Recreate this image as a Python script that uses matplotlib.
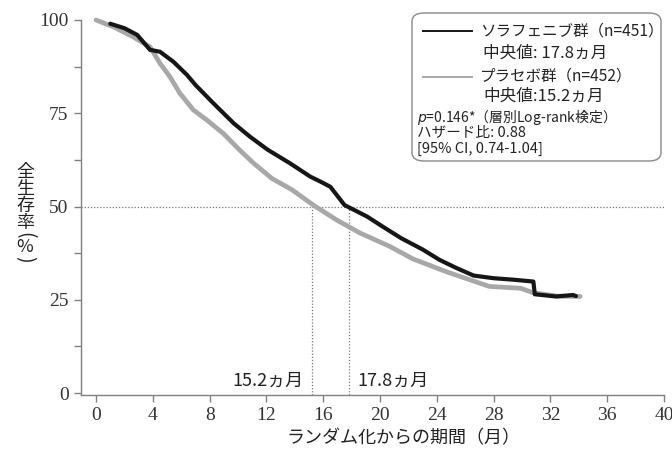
import matplotlib
matplotlib.use("Agg")
import matplotlib.pyplot as plt
from matplotlib.patches import FancyBboxPatch
from matplotlib.lines import Line2D
from matplotlib.ticker import MultipleLocator

plt.rcParams['font.family'] = ['Noto Sans CJK JP', 'DejaVu Sans']

# survival curves (months, %)
sora_m = [1.0, 2.0, 2.9, 3.8, 4.5, 5.45, 6.4, 7.0, 8.26, 9.7, 10.85, 12.1, 13.66,
          15.1, 15.8, 16.5, 17.5, 19.1, 20.2, 21.5, 23.0, 24.2, 25.4, 26.6, 28.0,
          29.4, 30.8, 30.9, 32.4, 33.6, 33.8]
sora_s = [99.0, 97.8, 96.0, 92.0, 91.5, 88.8, 85.3, 82.6, 77.7, 72.3, 68.7, 65.2, 61.6,
          58.0, 56.7, 55.3, 50.4, 47.3, 44.6, 41.5, 38.5, 35.7, 33.5, 31.5, 30.8,
          30.4, 29.9, 26.5, 25.9, 26.3, 26.0]
plac_m = [0, 1.2, 2.6, 3.8, 4.5, 5.2, 5.9, 6.85, 7.8, 8.96, 10.1, 11.1, 12.4, 13.8,
          15.3, 16.95, 18.6, 20.7, 22.3, 24.7, 26.0, 27.7, 29.9, 30.8, 32.5, 34.1]
plac_s = [100, 98.2, 95.5, 92.8, 88.4, 84.8, 80.4, 75.9, 73.2, 69.6, 65.2, 61.6, 57.5, 54.5,
          50.4, 46.4, 42.9, 39.3, 36.0, 32.5, 30.8, 28.6, 28.1, 26.9, 26.0, 25.9]

median_sora = 17.8
median_plac = 15.2

xticks = list(range(0, 41, 4))
yticks = [0, 25, 50, 75, 100]

W, H = 672, 457
fig = plt.figure(figsize=(W / 100, H / 100), dpi=100)
ax = fig.add_axes([81 / W, 1 - 395 / H, (664 - 81) / W, (395 - 20) / H])

def fx(x):
    return x / W

def fy(y):
    return 1 - y / H

ax.plot(plac_m, plac_s, color='#a8a8a8', lw=3.4, solid_capstyle='round', clip_on=False, zorder=3)
ax.plot(sora_m, sora_s, color='#161616', lw=3.0, solid_capstyle='round', clip_on=False, zorder=4)

# median guide lines
dot = dict(color='#777777', lw=0.9, ls=(0, (1, 1.5)), zorder=1)
ax.axhline(50, **dot)
ax.plot([median_plac, median_plac], [-0.5, 50], **dot)
ax.plot([median_sora, median_sora], [-0.5, 50], **dot)
ax.text(median_plac - 0.6, 3.2, '15.2ヵ月', ha='right', va='center', fontsize=13, color='#222222')
ax.text(median_sora + 0.6, 3.2, '17.8ヵ月', ha='left', va='center', fontsize=13, color='#222222')

ax.set_xlim(-1.06, 40)
ax.set_ylim(-0.5, 100)
ax.set_xticks(xticks)
ax.set_yticks(yticks)
ax.yaxis.set_minor_locator(MultipleLocator(12.5))
for s in ['top', 'right']:
    ax.spines[s].set_visible(False)
for s in ['left', 'bottom']:
    ax.spines[s].set_color('#808080')
    ax.spines[s].set_linewidth(1.0)
ax.tick_params(which='both', direction='out', length=5, width=1.0, color='#808080')
ax.tick_params(axis='both', labelsize=14, labelcolor='#333333', pad=4)
for lab in ax.get_xticklabels() + ax.get_yticklabels():
    lab.set_family('Liberation Serif')

fig.text(fx(403), fy(438), 'ランダム化からの期間（月）', ha='center', va='center',
         fontsize=13, color='#222222')

# vertical y label, one glyph per row
ylab = ['全', '生', '存', '率', '(', '%', ')']
ylab_y = [172, 189, 206, 223, 235, 247, 259]
ylab_rot = [0, 0, 0, 0, -90, 0, -90]
for ch, yy, rr in zip(ylab, ylab_y, ylab_rot):
    fig.text(fx(25), fy(yy), ch, ha='center', va='center', rotation=rr,
             fontsize=13 if rr == 0 else 14, color='#222222')

# legend box
box = FancyBboxPatch((fx(412), fy(161)), fx(661) - fx(412), fy(13) - fy(161),
                     boxstyle='round,pad=0,rounding_size=0.018', transform=fig.transFigure,
                     facecolor='white', edgecolor='#8a8a8a', lw=1.0, zorder=5)
fig.patches.append(box)
fig.add_artist(Line2D([fx(423), fx(472)], [fy(31), fy(31)], color='#161616', lw=1.4,
                      transform=fig.transFigure, zorder=6))
fig.add_artist(Line2D([fx(423), fx(472)], [fy(77), fy(77)], color='#a8a8a8', lw=1.4,
                      transform=fig.transFigure, zorder=6))
fig.text(fx(480), fy(31), 'ソラフェニブ群（n=451）', ha='left', va='center', fontsize=11.2, color='#222222', zorder=7)
fig.text(fx(483), fy(53), '中央値: 17.8ヵ月', ha='left', va='center', fontsize=12, color='#222222', zorder=7)
fig.text(fx(480), fy(76), 'プラセボ群（n=452）', ha='left', va='center', fontsize=11.2, color='#222222', zorder=7)
fig.text(fx(483), fy(96), '中央値:15.2ヵ月', ha='left', va='center', fontsize=12, color='#222222', zorder=7)
fig.text(fx(417), fy(117), '$p$=0.146*（層別Log-rank検定）', ha='left', va='center', fontsize=10, color='#222222', zorder=7)
fig.text(fx(417), fy(133), 'ハザード比: 0.88', ha='left', va='center', fontsize=10.5, color='#222222', zorder=7)
fig.text(fx(417), fy(149), '[95% CI, 0.74-1.04]', ha='left', va='center', fontsize=10.5, color='#222222', zorder=7)

fig.savefig('out.png', dpi=100)
